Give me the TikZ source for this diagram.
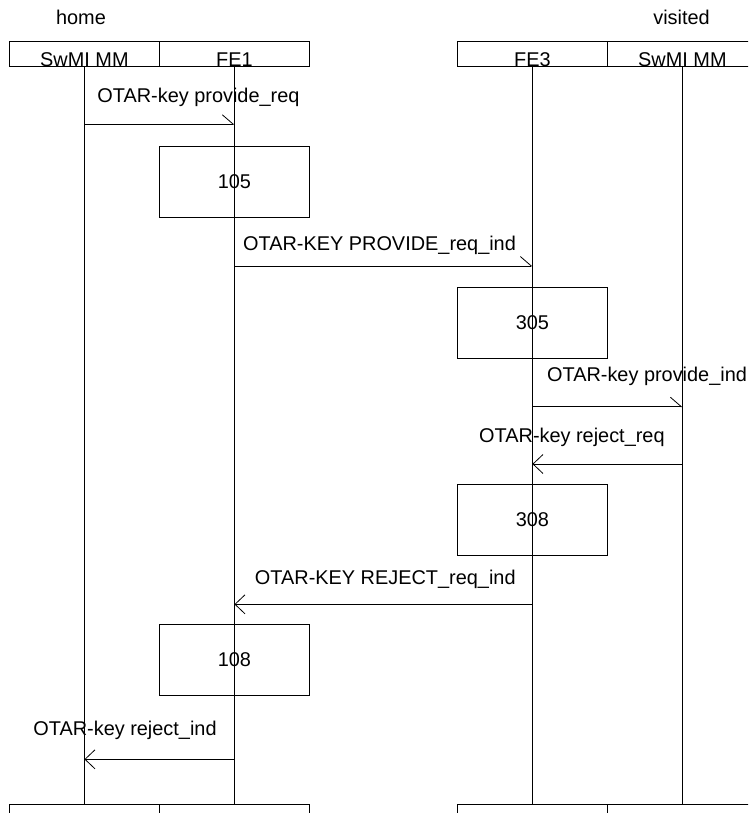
\documentclass[tikz,border=0pt]{standalone}
\usepackage{fontspec}
\setmainfont{Liberation Sans}
\usetikzlibrary{arrows.meta}
\begin{document}
\begin{tikzpicture}[x=1pt,y=-1pt,line width=0.8pt,
  every node/.style={font=\fontsize{19.9}{23}\selectfont},
  hdr/.style={draw,rectangle,minimum width=150pt,minimum height=25pt,inner sep=0pt,anchor=north west},
  actbox/.style={draw,rectangle,minimum width=150pt,minimum height=70.5pt,inner sep=0pt},
  lbl/.style={inner sep=0pt},
  msgR/.style={-{Straight Barb[harpoon,length=11pt,width=19pt]}},
  msgL/.style={-{Straight Barb[length=10pt,width=19pt]}}]
\useasboundingbox (0,0) rectangle (748,813);
\clip (0,0) rectangle (748,813);
% headers
\node[lbl,anchor=base] (home) at (81,25) {home};
\node[lbl,anchor=base] (visited) at (681.5,25) {visited};
\node[hdr] (hA) at (9,41.5) {};
\node[hdr] (hB) at (159,41.5) {};
\node[hdr] (hC) at (457,41.5) {};
\node[hdr] (hD) at (607,41.5) {};
\node[lbl,anchor=base] (tA) at ([yshift=0.5pt]hA.south) {SwMI MM};
\node[lbl,anchor=base] (tB) at ([yshift=0.5pt]hB.south) {FE1};
\node[lbl,anchor=base] (tC) at ([yshift=0.5pt]hC.south) {FE3};
\node[lbl,anchor=base] (tD) at ([yshift=0.5pt]hD.south) {SwMI MM};
% bottom boxes
\node[hdr] (bA) at (9,804) {};
\node[hdr] (bB) at (159,804) {};
\node[hdr] (bC) at (457,804) {};
\node[hdr] (bD) at (607,804) {};
% lifelines
\draw (hA.south) -- (bA.north);
\draw (hB.south) -- (bB.north);
\draw (hC.south) -- (bC.north);
\draw (hD.south) -- (bD.north);
% action boxes
\node[actbox] (a105) at (hB.south |- 0,182) {105};
\node[actbox] (a305) at (hC.south |- 0,322.8) {305};
\node[actbox] (a308) at (hC.south |- 0,519.8) {308};
\node[actbox] (a108) at (hB.south |- 0,660) {108};
% messages
\coordinate (m1a) at (hA.south |- 0,124.3);
\coordinate (m1b) at (hB.south |- 0,124.3);
\draw[msgR] (m1a) -- (m1b);
\node[lbl,anchor=base west] (l1) at (97,102.7) {OTAR-key provide\_req};
\coordinate (m2a) at (hB.south |- 0,266);
\coordinate (m2b) at (hC.south |- 0,266);
\draw[msgR] (m2a) -- (m2b);
\node[lbl,anchor=base west] (l2) at (242.7,250) {OTAR-KEY PROVIDE\_req\_ind};
\coordinate (m3a) at (hC.south |- 0,406.7);
\coordinate (m3b) at (hD.south |- 0,406.7);
\draw[msgR] (m3a) -- (m3b);
\node[lbl,anchor=base west] (l3) at (546.7,381.5) {OTAR-key provide\_ind};
\coordinate (m4a) at (hD.south |- 0,464);
\coordinate (m4b) at (hC.south |- 0,464);
\draw[msgL] (m4a) -- (m4b);
\node[lbl,anchor=base east] (l4) at (665,442.7) {OTAR-key reject\_req};
\coordinate (m5a) at (hC.south |- 0,604.3);
\coordinate (m5b) at (hB.south |- 0,604.3);
\draw[msgL] (m5a) -- (m5b);
\node[lbl,anchor=base east] (l5) at (516,584) {OTAR-KEY REJECT\_req\_ind};
\coordinate (m6a) at (hB.south |- 0,759.3);
\coordinate (m6b) at (hA.south |- 0,759.3);
\draw[msgL] (m6a) -- (m6b);
\node[lbl,anchor=base east] (l6) at (217,735.7) {OTAR-key reject\_ind};
\end{tikzpicture}
\end{document}
